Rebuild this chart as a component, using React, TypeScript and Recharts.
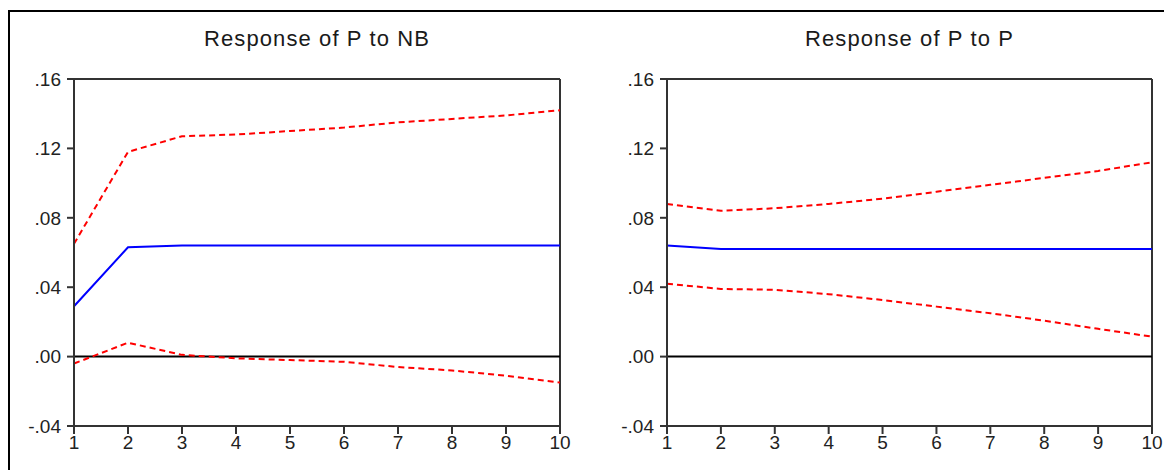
import React from 'react';
import { LineChart, Line, XAxis, YAxis, ReferenceLine } from 'recharts';

const periods = [1, 2, 3, 4, 5, 6, 7, 8, 9, 10];

// Response of P to NB
const nbResponse = [0.029, 0.063, 0.064, 0.064, 0.064, 0.064, 0.064, 0.064, 0.064, 0.064];
const nbUpper = [0.065, 0.118, 0.127, 0.128, 0.130, 0.132, 0.135, 0.137, 0.139, 0.142];
const nbLower = [-0.004, 0.008, 0.001, -0.001, -0.002, -0.003, -0.006, -0.008, -0.011, -0.015];

// Response of P to P
const pResponse = [0.064, 0.062, 0.062, 0.062, 0.062, 0.062, 0.062, 0.062, 0.062, 0.062];
const pUpper = [0.088, 0.084, 0.0855, 0.088, 0.091, 0.095, 0.099, 0.103, 0.107, 0.112];
const pLower = [0.042, 0.039, 0.0385, 0.036, 0.0326, 0.0288, 0.025, 0.0207, 0.016, 0.0115];

const yTickValues = [-0.04, 0, 0.04, 0.08, 0.12, 0.16];
const yTickLabels = ['-.04', '.00', '.04', '.08', '.12', '.16'];
const xTickValues = [1, 2, 3, 4, 5, 6, 7, 8, 9, 10];

const titles = ['Response of P to NB', 'Response of P to P'];

const FONT = '"Liberation Sans", Arial, sans-serif';
const AXIS = '#333333';

function buildRows(resp: number[], up: number[], lo: number[]) {
  return periods.map((p, i) => ({ period: p, response: resp[i], upper: up[i], lower: lo[i] }));
}

function yFmt(v: number) {
  const idx = yTickValues.findIndex((t) => Math.abs(t - v) < 1e-9);
  return idx >= 0 ? yTickLabels[idx] : String(v);
}

type PanelProps = {
  left: number;
  width: number;
  marginLeft: number;
  marginRight: number;
  rows: any[];
  title: string;
};

function Panel({ left, width, marginLeft, marginRight, rows, title }: PanelProps) {
  const plotCenter = marginLeft + 60 + (width - marginLeft - 60 - marginRight) / 2;
  return (
    <div style={{ position: 'absolute', left, top: 0, width, height: 470 }}>
      <div
        style={{
          position: 'absolute',
          left: plotCenter,
          top: 28,
          transform: 'translateX(-50%)',
          whiteSpace: 'nowrap',
          fontFamily: FONT,
          fontSize: 22,
          lineHeight: 1,
          letterSpacing: 1.1,
          color: '#1a1a1a',
        }}
      >
        {title}
      </div>
      <LineChart
        width={width}
        height={470}
        data={rows}
        margin={{ top: 79, right: marginRight, bottom: 4, left: marginLeft }}
      >
        <XAxis
          dataKey="period"
          type="number"
          domain={[1, 10]}
          ticks={xTickValues}
          interval={0}
          height={40}
          axisLine={{ stroke: AXIS, strokeWidth: 2 }}
          tickLine={{ stroke: AXIS, strokeWidth: 2 }}
          tickSize={8}
          tickMargin={2}
          tick={{ fill: '#222', fontSize: 19, fontFamily: FONT }}
        />
        <YAxis
          type="number"
          domain={[-0.04, 0.16]}
          ticks={yTickValues}
          interval={0}
          width={60}
          tickFormatter={yFmt}
          axisLine={{ stroke: AXIS, strokeWidth: 2 }}
          tickLine={{ stroke: AXIS, strokeWidth: 2 }}
          tickSize={7}
          tickMargin={6}
          tick={{ fill: '#222', fontSize: 19, fontFamily: FONT }}
        />
        <ReferenceLine y={0.16} stroke={AXIS} strokeWidth={2} />
        <ReferenceLine x={10} stroke={AXIS} strokeWidth={2} />
        <ReferenceLine y={0} stroke="#000" strokeWidth={2} />
        <Line
          dataKey="upper"
          type="linear"
          stroke="#ff0000"
          strokeWidth={2}
          strokeDasharray="6 4"
          dot={false}
          isAnimationActive={false}
        />
        <Line
          dataKey="lower"
          type="linear"
          stroke="#ff0000"
          strokeWidth={2}
          strokeDasharray="6 4"
          dot={false}
          isAnimationActive={false}
        />
        <Line
          dataKey="response"
          type="linear"
          stroke="#0000ff"
          strokeWidth={2}
          dot={false}
          isAnimationActive={false}
        />
      </LineChart>
    </div>
  );
}

export default function App() {
  return (
    <div style={{ position: 'absolute', left: 0, top: 0, width: 1164, height: 470, background: '#fff', overflow: 'hidden' }}>
      <div
        style={{
          position: 'absolute',
          left: 8,
          top: 10,
          width: 1170,
          height: 480,
          borderLeft: '2px solid #000',
          borderTop: '2px solid #000',
        }}
      />
      <Panel left={0} width={590} marginLeft={14} marginRight={30} rows={buildRows(nbResponse, nbUpper, nbLower)} title={titles[0]} />
      <Panel left={590} width={574} marginLeft={17} marginRight={12} rows={buildRows(pResponse, pUpper, pLower)} title={titles[1]} />
    </div>
  );
}
